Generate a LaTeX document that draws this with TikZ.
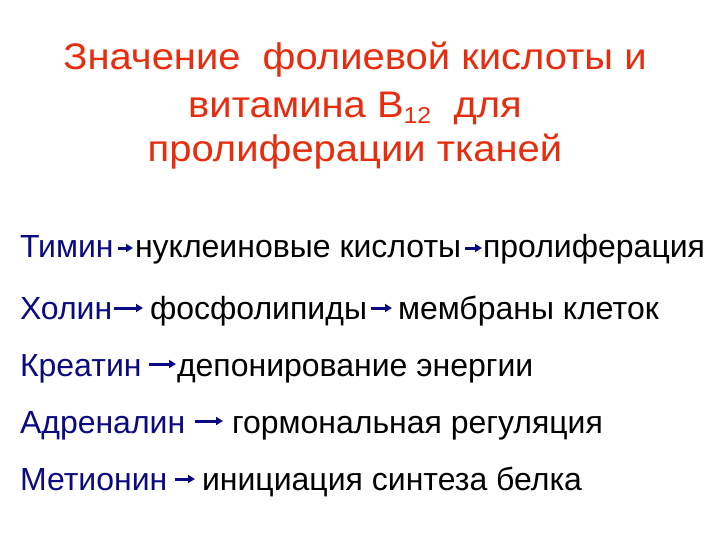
\documentclass[tikz,border=0pt]{standalone}
\usepackage{fontspec}
\setmainfont{Liberation Sans}
\newfontfamily\titlefont[FakeStretch=1.08]{Liberation Sans}
\definecolor{titlered}{RGB}{232,45,15}
\definecolor{navy}{RGB}{10,10,130}
\usetikzlibrary{arrows.meta}
\begin{document}
\begin{tikzpicture}[x=1pt,y=-1pt,
  every node/.style={inner sep=0pt,outer sep=0pt},
  ttl/.style={font=\titlefont\fontsize{37}{41}\selectfont,text=titlered,anchor=base},
  src/.style={font=\fontsize{32}{36}\selectfont,text=navy,anchor=base west},
  dst/.style={font=\fontsize{32}{36}\selectfont,text=black,anchor=base west},
  arr/.style={draw=navy,line width=3pt,-{Triangle[length=7pt,width=8pt]}}]
\useasboundingbox[fill=white] (0,0) rectangle (720,540);
\node[ttl] (t1) at (355,70) {Значение~~фолиевой кислоты и};
\node[ttl] (t2) at (355,118) {витамина B\raisebox{-6pt}{\fontsize{23}{23}\selectfont 12}~~для};
\node[ttl] (t3) at (355,162) {пролиферации тканей};
% line 1
\node[src] (a1) at (20,258) {Тимин};
\node[dst] (b1) at (135,258) {нуклеиновые кислоты};
\node[dst] (c1) at (483,258) {пролиферация};
\draw[arr] ([xshift=4pt,yshift=10pt]a1.base east) -- ([xshift=-2pt,yshift=10pt]b1.base west);
\draw[arr] ([xshift=4pt,yshift=10pt]b1.base east) -- ([xshift=-1pt,yshift=10pt]c1.base west);
% line 2
\node[src] (a2) at (20,319) {Холин};
\node[dst] (b2) at (150,319) {фосфолипиды};
\node[dst] (c2) at (398,319) {мембраны клеток};
\draw[arr] ([xshift=2pt,yshift=11pt]a2.base east) -- ([xshift=-7pt,yshift=11pt]b2.base west);
\draw[arr] ([xshift=4pt,yshift=11pt]b2.base east) -- ([xshift=-6pt,yshift=11pt]c2.base west);
% line 3
\node[src] (a3) at (20,376) {Креатин};
\node[dst] (b3) at (177,376) {депонирование энергии};
\draw[arr] ([xshift=7pt,yshift=12pt]a3.base east) -- ([xshift=-1pt,yshift=12pt]b3.base west);
% line 4
\node[src] (a4) at (20,433) {Адреналин};
\node[dst] (b4) at (232,433) {гормональная регуляция};
\draw[arr] ([xshift=10pt,yshift=12pt]a4.base east) -- ([xshift=-9pt,yshift=12pt]b4.base west);
% line 5
\node[src] (a5) at (20,490) {Метионин};
\node[dst] (b5) at (202,490) {инициация синтеза белка};
\draw[arr] ([xshift=8pt,yshift=11pt]a5.base east) -- ([xshift=-7pt,yshift=11pt]b5.base west);
\end{tikzpicture}
\end{document}
